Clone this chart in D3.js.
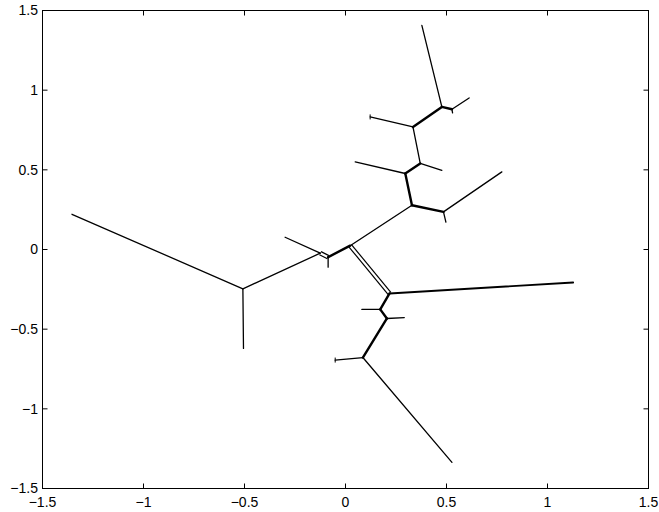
<!DOCTYPE html>
<html>
<head>
<meta charset="utf-8">
<script src="https://cdn.jsdelivr.net/npm/d3@7"></script>
<style>
  body { margin: 0; background: #fff; }
  svg { display: block; }
  text { font-family: "Liberation Sans", Arial, Helvetica, sans-serif; font-size: 14px; fill: #000; }
</style>
</head>
<body>
<svg id="chart" width="659" height="512"></svg>
<script>
// ---- data ----
const xTicks = [-1.5, -1, -0.5, 0, 0.5, 1, 1.5];
const yTicks = [-1.5, -1, -0.5, 0, 0.5, 1, 1.5];

// node coordinates of the tree
const nodeNames = ["P1","A","Adn","B1","Bul","B2","B2t","C","D","K","Kend","Kt","J","Jend","I","Iend","H","Hend","F","Ftop","G","Gend","Gt","E","Eend","L","Lend","M","Mend","N","Nend","Ndn"];
const nodeX = [-1.354,-0.508,-0.505,-0.125,-0.299,-0.086,-0.086,0.023,0.329,0.485,0.774,0.497,0.296,0.048,0.370,0.477,0.334,0.122,0.477,0.378,0.527,0.612,0.530,0.218,1.127,0.172,0.081,0.205,0.291,0.086,-0.051,0.527];
const nodeY = [0.221,-0.247,-0.621,-0.023,0.077,-0.048,-0.111,0.024,0.278,0.236,0.487,0.172,0.477,0.550,0.540,0.497,0.769,0.832,0.895,1.407,0.880,0.951,0.858,-0.276,-0.207,-0.376,-0.376,-0.433,-0.427,-0.678,-0.694,-1.336];

// edges: from, to, kind (1 thin, 2 thick, 3 double, 4 medium)
const edgeFrom = ["P1","A","A","Bul","B1","B2","B2","C","D","K","K","D","J","J","I","I","H","H","F","F","G","G","C","E","E","L","L","M","M","N","N"];
const edgeTo   = ["A","Adn","B1","B1","B2","B2t","C","D","K","Kend","Kt","J","Jend","I","Iend","H","Hend","F","Ftop","G","Gend","Gt","E","Eend","L","Lend","M","Mend","N","Nend","Ndn"];
const edgeKind = [1,1,1,1,3,1,2,1,2,1,1,2,1,2,1,1,1,2,1,2,1,1,3,4,2,1,2,1,2,1,1];

// small end ticks at tips
const tipTicks = ["Hend","Nend"];

// ---- drawing ----
const svg = d3.select("#chart");
const mLeft = 42.5, mRight = 648.5, mTop = 10.5, mBottom = 488.5;
const x = d3.scaleLinear().domain([-1.5, 1.5]).range([mLeft, mRight]);
const y = d3.scaleLinear().domain([-1.5, 1.5]).range([mBottom, mTop]);

const nodeIndex = new Map(nodeNames.map((n, i) => [n, i]));
const px = n => x(nodeX[nodeIndex.get(n)]);
const py = n => y(nodeY[nodeIndex.get(n)]);
const widthOf = { 1: 1.3, 2: 2.4, 4: 1.9 };

const g = svg.append("g");

edgeFrom.forEach((f, i) => {
  const t = edgeTo[i], k = edgeKind[i];
  if (k === 3) {
    g.append("line").attr("x1", px(f)).attr("y1", py(f)).attr("x2", px(t)).attr("y2", py(t))
      .attr("stroke", "#000").attr("stroke-width", 4.6);
    g.append("line").attr("x1", px(f)).attr("y1", py(f)).attr("x2", px(t)).attr("y2", py(t))
      .attr("stroke", "#fff").attr("stroke-width", 2.2);
  }
});
edgeFrom.forEach((f, i) => {
  const t = edgeTo[i], k = edgeKind[i];
  if (k !== 3) {
    g.append("line").attr("x1", px(f)).attr("y1", py(f)).attr("x2", px(t)).attr("y2", py(t))
      .attr("stroke", "#000").attr("stroke-width", widthOf[k])
      .attr("stroke-linecap", "round");
  }
});
tipTicks.forEach(n => {
  g.append("line").attr("x1", px(n)).attr("y1", py(n) - 2.5).attr("x2", px(n)).attr("y2", py(n) + 2.5)
    .attr("stroke", "#000").attr("stroke-width", 1);
});

svg.append("rect").attr("x", mLeft).attr("y", mTop).attr("width", mRight - mLeft).attr("height", mBottom - mTop)
  .attr("fill", "none").attr("stroke", "#000").attr("stroke-width", 1);

const fmt = v => (v < 0 ? "\u2212" : "") + Math.abs(v);
const tl = 5;
xTicks.forEach(v => {
  svg.append("line").attr("x1", x(v)).attr("x2", x(v)).attr("y1", mBottom).attr("y2", mBottom - tl).attr("stroke", "#000");
  svg.append("line").attr("x1", x(v)).attr("x2", x(v)).attr("y1", mTop).attr("y2", mTop + tl).attr("stroke", "#000");
  svg.append("text").attr("x", x(v)).attr("y", 507).attr("text-anchor", "middle").text(fmt(v));
});
yTicks.forEach(v => {
  svg.append("line").attr("y1", y(v)).attr("y2", y(v)).attr("x1", mLeft).attr("x2", mLeft + tl).attr("stroke", "#000");
  svg.append("line").attr("y1", y(v)).attr("y2", y(v)).attr("x1", mRight).attr("x2", mRight - tl).attr("stroke", "#000");
  svg.append("text").attr("x", 38).attr("y", y(v)).attr("dy", "0.35em").attr("text-anchor", "end").text(fmt(v));
});
</script>
</body>
</html>
